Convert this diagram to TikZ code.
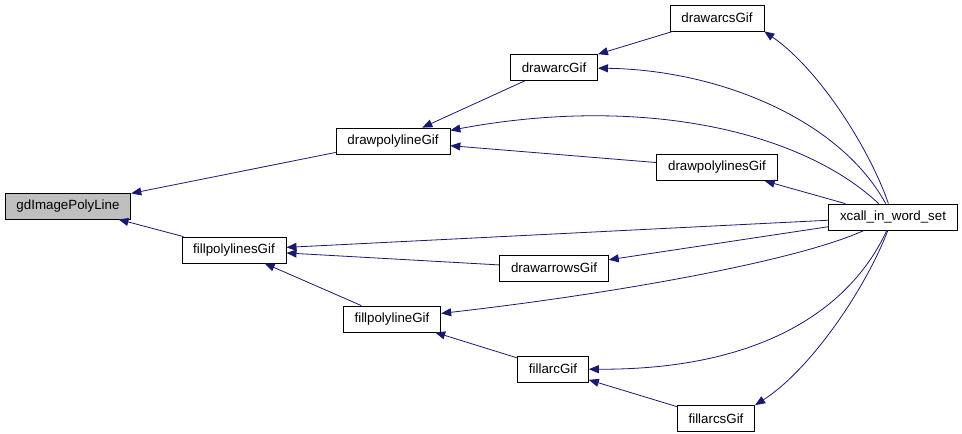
\documentclass[tikz,border=0pt]{standalone}
\usepackage{fontspec}
\setmainfont{Liberation Sans}
\usetikzlibrary{arrows.meta}
\definecolor{callblue}{HTML}{191970}

\begin{document}
\begin{tikzpicture}[x=0.75pt,y=-0.75pt,
    call/.style={draw=callblue,line width=0.6pt,-{Triangle[length=7.5pt,width=6pt]}}]
    \fill[white] (0,0) rectangle (962,434);
    \useasboundingbox (0,0) rectangle (962,434);
    \begin{scope}[every node/.style={draw,line width=0.6pt,font=\fontsize{10}{12}\selectfont,
        inner xsep=8.5pt,inner ysep=0pt,minimum height=19.5pt}]
        \node[fill={rgb,255:red,191;green,191;blue,191}] (gd) at (68,206) {gdImagePolyLine};
        \node (dpl) at (393,141) {drawpolylineGif};
        \node (fpls) at (234,250) {fillpolylinesGif};
        \node (fpl) at (392,319) {fillpolylineGif};
        \node (darc) at (554,67.5) {drawarcGif};
        \node (darcs) at (717,18) {drawarcsGif};
        \node (dpls) at (717,167.5) {drawpolylinesGif};
        \node (darr) at (554,268) {drawarrowsGif};
        \node (farc) at (553,369) {fillarcGif};
        \node (farcs) at (716,418.5) {fillarcsGif};
        \node (xcall) at (893,217) {xcall\_in\_word\_set};
    \end{scope}
    \foreach \a/\b in {dpl/gd,fpls/gd,darc/dpl,dpls/dpl,darcs/darc,xcall/dpls,
        xcall/fpls,darr/fpls,fpl/fpls,xcall/darr,farc/fpl,farcs/farc}
        \draw[call] (\a) -- (\b);
    % curved calls from xcall_in_word_set
    \draw[call] (xcall) .. controls (800,130) and (640,95) .. (dpl);
    \draw[call] (xcall) .. controls (840,120) and (720,70) .. (darc);
    \draw[call] (xcall) .. controls (870,150) and (820,70) .. (darcs.south east);
    \draw[call] (xcall) .. controls (800,260) and (620,293) .. (fpl);
    \draw[call] (xcall) .. controls (850,310) and (760,370) .. (farc);
    \draw[call] (xcall) .. controls (865,290) and (810,370) .. (farcs.north east);
\end{tikzpicture}
\end{document}
